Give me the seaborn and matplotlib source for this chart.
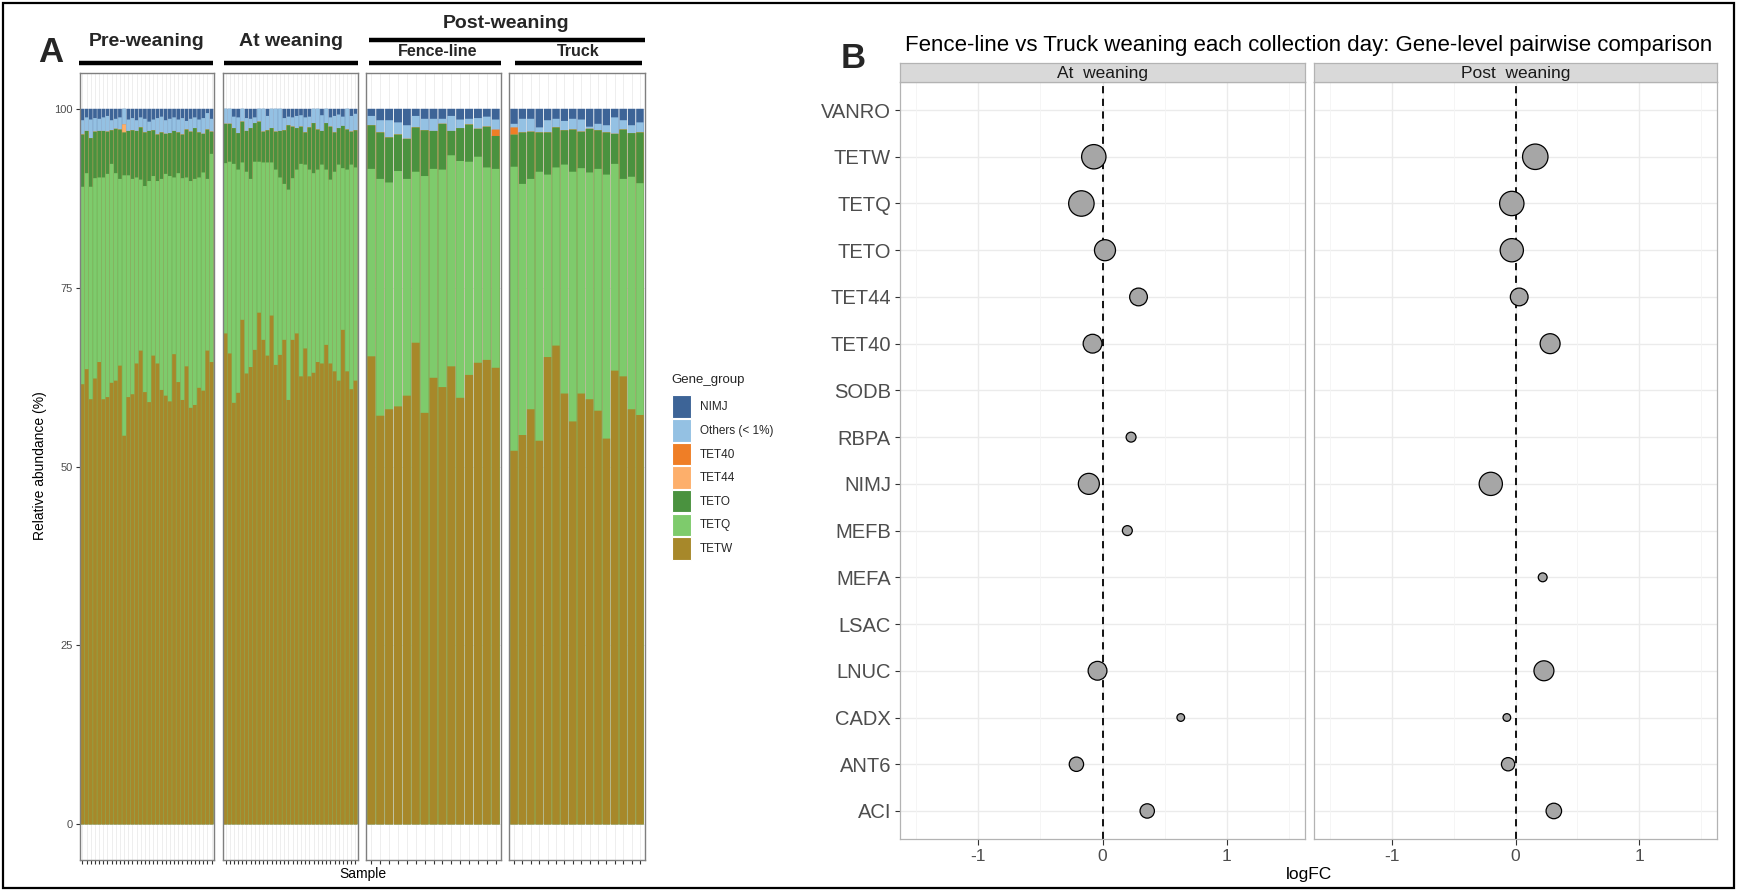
import numpy as np
import pandas as pd
import matplotlib
matplotlib.use("Agg")
import matplotlib.pyplot as plt
import seaborn as sns
from matplotlib.patches import Rectangle, Patch
from matplotlib.lines import Line2D

sns.set_theme(style="white")
plt.rcParams['font.family'] = ['Liberation Sans', 'DejaVu Sans']

# ---------------- Panel A data (relative abundance, %) ----------------
groups_legend = ["NIMJ", "Others (< 1%)", "TET40", "TET44", "TETO", "TETQ", "TETW"]
group_colors = ["#3D6497", "#94C1E3", "#EF7E26", "#FDAF6B", "#4A923F", "#7ECB6C", "#A7882A"]

pre_TETW = [61.5,63.6,59.4,62.3,64.6,59.4,59.7,61.7,62.0,64.1,54.3,59.7,60.1,64.4,66.2,60.4,
            59.0,65.5,64.4,60.7,59.9,59.1,65.7,61.8,59.3,64.0,58.2,58.6,61.0,60.6,66.2,64.6]
pre_TETQ = [27.6,27.4,29.7,28.0,25.8,31.0,31.2,30.6,29.0,26.1,36.4,31.0,30.1,26.0,23.9,28.8,
            30.9,25.1,25.5,29.5,31.0,31.5,24.7,29.2,31.0,26.4,31.7,31.6,29.4,30.5,24.0,29.1]
pre_TETO = [7.3,5.9,6.8,6.5,6.5,6.5,5.9,4.7,6.2,6.9,6.0,6.2,6.8,6.5,7.3,7.5,
            7.0,6.4,6.5,6.5,5.6,6.0,6.5,5.7,6.1,6.7,6.9,7.1,6.3,5.4,6.9,3.1]
pre_TET44 = [0,0,0,0,0,0,0,0,0,0,1.1,0,0,0,0,0,0,0,0,0,0,0,0,0,0,0,0,0,0,0,0,0]
pre_TET40 = [0]*32
pre_Others = [2.0,1.9,2.6,1.9,1.7,1.9,2.2,1.4,1.4,1.7,2.2,1.6,1.7,1.5,1.4,1.9,
              1.3,1.5,2.3,2.2,1.9,2.0,1.9,1.8,2.3,1.2,1.8,1.5,1.8,2.2,2.3,1.8]
pre_NIMJ = [1.6,1.2,1.5,1.3,1.4,1.2,1.0,1.6,1.4,1.2,0.0,1.5,1.3,1.6,1.2,1.4,
            1.8,1.5,1.3,1.1,1.6,1.4,1.2,1.5,1.3,1.7,1.4,1.2,1.5,1.3,0.6,1.4]

at_TETW = [68.6,65.8,58.9,60.3,70.5,63.0,63.9,66.3,71.5,67.7,65.5,71.1,64.2,65.6,67.7,59.3,
           67.7,68.6,62.6,66.5,62.6,63.1,64.6,64.4,67.0,64.4,63.3,62.0,69.1,63.3,60.8,62.0]
at_TETQ = [23.8,26.8,33.4,31.2,22.0,28.2,26.3,26.3,21.1,24.8,27.0,21.4,27.3,24.8,21.8,29.4,
           22.6,22.9,29.7,25.7,28.9,27.9,26.9,27.8,24.5,25.7,27.9,30.2,22.6,28.2,31.4,29.8]
at_TETO = [5.5,5.3,5.0,5.1,5.7,5.7,7.1,5.4,5.6,4.3,4.5,4.8,5.3,6.5,7.5,9.0,
           7.2,5.8,5.2,4.5,5.9,7.0,5.6,4.7,6.5,7.4,5.5,5.1,5.9,5.6,4.6,5.2]
at_TET44 = [0]*32
at_TET40 = [0]*32
at_Others = [2.1,2.1,1.6,2.2,1.8,1.8,1.3,0.8,1.8,3.2,2.0,2.7,3.2,3.1,1.7,1.2,
             1.3,1.7,1.6,2.1,1.5,2.0,2.9,2.2,2.0,1.3,2.3,1.9,1.3,2.9,2.2,2.3]
at_NIMJ = [0,0,1.1,1.2,0,1.3,1.4,1.2,0,0,1.0,0,0,0,1.3,1.1,
           1.2,1.0,0.9,1.2,1.1,0,0,0.9,0,1.2,1.0,0.8,1.1,0,1.0,0.7]

fence_TETW = [65.4,57.1,58.0,58.4,59.9,67.3,57.5,62.4,61.1,64.0,59.6,62.8,64.5,64.9,63.8]
fence_TETQ = [26.2,33.1,31.7,32.9,30.3,23.9,33.1,29.2,30.4,29.5,33.1,29.8,28.8,26.9,27.8]
fence_TETO = [6.1,6.5,6.3,5.1,5.6,6.2,6.4,5.3,6.4,3.4,4.6,5.2,3.9,5.7,4.6]
fence_TET44 = [0]*15
fence_TET40 = [0,0,0,0,0,0,0,0,0,0,0,0,0,0,0.9]
fence_Others = [1.3,1.7,2.4,1.7,1.9,1.6,1.6,1.7,0.7,2.1,1.2,0.8,1.5,1.4,1.4]
fence_NIMJ = [1.0,1.6,1.6,1.9,2.3,1.0,1.4,1.4,1.4,1.0,1.5,1.4,1.3,1.1,1.5]

truck_TETW = [52.2,54.4,58.0,53.6,65.3,66.9,60.2,56.3,60.2,59.4,57.8,53.9,63.4,62.6,58.0,57.2]
truck_TETQ = [39.7,35.1,32.2,37.6,25.5,24.9,32.0,34.9,31.5,31.7,33.8,36.9,28.9,27.6,32.5,32.4]
truck_TETO = [4.5,7.2,6.6,5.5,5.9,5.6,4.8,5.9,5.1,6.1,5.4,5.9,4.2,6.9,6.1,7.1]
truck_TET44 = [0]*16
truck_TET40 = [1.0,0,0,0,0,0,0,0,0,0,0,0,0,0,0,0]
truck_Others = [0.5,1.9,1.8,0.7,1.7,1.2,1.3,1.5,1.7,0.3,0.9,1.0,2.3,1.3,1.1,1.4]
truck_NIMJ = [2.1,1.4,1.4,2.6,1.6,1.4,1.7,1.4,1.5,2.5,2.1,2.3,1.2,1.6,2.3,1.9]

panel_names = ["Pre-weaning", "At weaning", "Fence-line", "Truck"]
panel_tables = {
    "Pre-weaning": [pre_NIMJ, pre_Others, pre_TET40, pre_TET44, pre_TETO, pre_TETQ, pre_TETW],
    "At weaning": [at_NIMJ, at_Others, at_TET40, at_TET44, at_TETO, at_TETQ, at_TETW],
    "Fence-line": [fence_NIMJ, fence_Others, fence_TET40, fence_TET44, fence_TETO, fence_TETQ, fence_TETW],
    "Truck": [truck_NIMJ, truck_Others, truck_TET40, truck_TET44, truck_TETO, truck_TETQ, truck_TETW],
}

# ---------------- Panel B data ----------------
genes = ["VANRO", "TETW", "TETQ", "TETO", "TET44", "TET40", "SODB", "RBPA",
         "NIMJ", "MEFB", "MEFA", "LSAC", "LNUC", "CADX", "ANT6", "ACI"]
atw_genes = ["TETW", "TETQ", "TETO", "TET44", "TET40", "RBPA", "NIMJ", "MEFB", "LNUC", "CADX", "ANT6", "ACI"]
atw_logfc = [-0.07, -0.17, 0.02, 0.29, -0.08, 0.23, -0.11, 0.20, -0.04, 0.63, -0.21, 0.36]
atw_abund = [121, 132, 90, 64, 72, 20, 90, 20, 72, 12, 42, 42]
post_genes = ["TETW", "TETQ", "TETO", "TET44", "TET40", "NIMJ", "MEFA", "LNUC", "CADX", "ANT6", "ACI"]
post_logfc = [0.16, -0.03, -0.03, 0.03, 0.28, -0.20, 0.22, 0.23, -0.07, -0.06, 0.31]
post_abund = [132, 121, 110, 64, 81, 110, 16, 81, 12, 36, 49]
facet_labels = ["At  weaning", "Post  weaning"]
x_ticks_b = [-1, 0, 1]

# ---------------- Figure ----------------
W, H = 1737, 890
fig = plt.figure(figsize=(W / 100, H / 100), dpi=100)
fig.patch.set_facecolor("white")

def add_ax(l, t, r, b):
    return fig.add_axes([l / W, 1 - b / H, (r - l) / W, (b - t) / H])

def fx(x):
    return x / W

def fy(y):
    return 1 - y / H

grey_text = "#4D4D4D"

# ----- Panel A -----
a_bounds = [(80, 214), (223, 358), (366, 501), (509, 645)]
for pi, (name, (l, r)) in enumerate(zip(panel_names, a_bounds)):
    ax = add_ax(l, 73, r, 860)
    ax.set_facecolor("white")
    vals = panel_tables[name]
    df = pd.DataFrame({g: v for g, v in zip(groups_legend, vals)})
    n = len(df)
    df["Sample"] = [f"{name}_{i:02d}" for i in range(n)]
    stack = groups_legend[::-1]  # bottom to top
    cum = df[stack].cumsum(axis=1)
    cum["Sample"] = df["Sample"]
    for i in range(n):
        ax.axvline(i, color="#EBEBEB", lw=0.6, zorder=0)
    for yv in [0, 25, 50, 75, 100]:
        ax.axhline(yv, color="#EBEBEB", lw=0.6, zorder=0)
    for g, c in zip(groups_legend, group_colors):
        sns.barplot(data=cum, x="Sample", y=g, color=c, saturation=1, width=0.9,
                    errorbar=None, ax=ax, linewidth=0, zorder=2, snap=False)
    ax.set_xlim(-0.6, n - 0.4)
    ax.set_ylim(-5, 105)
    ax.set_xlabel("")
    ax.set_ylabel("")
    ax.set_xticks(range(n))
    ax.set_xticklabels([])
    ax.tick_params(axis="x", length=3, width=0.8, color="#333333", bottom=True)
    if pi == 0:
        ax.set_yticks([0, 25, 50, 75, 100])
        ax.set_yticklabels(["0", "25", "50", "75", "100"], fontsize=8, color=grey_text)
        ax.tick_params(axis="y", length=3, width=0.8, color="#333333", left=True, pad=2)
    else:
        ax.set_yticks([])
    for s in ax.spines.values():
        s.set_color("#7F7F7F")
        s.set_linewidth(1.0)
    ax.grid(False)

fig.text(fx(40), fy(466), "Relative abundance (%)", rotation=90, ha="center", va="center",
         fontsize=10, color="black")
fig.text(fx(363), fy(874), "Sample", ha="center", va="center", fontsize=10, color="black")

# headers
def hline(x0, x1, y, lw=3.2):
    fig.add_artist(Line2D([fx(x0), fx(x1)], [fy(y), fy(y)], transform=fig.transFigure,
                          color="black", lw=lw, solid_capstyle="butt"))

fig.text(fx(147), fy(42), "Pre-weaning", ha="center", va="center", fontsize=14, fontweight="bold")
hline(79, 213, 63)
fig.text(fx(291), fy(42), "At weaning", ha="center", va="center", fontsize=14, fontweight="bold")
hline(224, 358, 63)
fig.text(fx(506), fy(24), "Post-weaning", ha="center", va="center", fontsize=14, fontweight="bold")
hline(369, 645, 39.5)
fig.text(fx(438), fy(51), "Fence-line", ha="center", va="center", fontsize=11.5, fontweight="bold")
hline(369, 501, 63)
fig.text(fx(578), fy(51), "Truck", ha="center", va="center", fontsize=11.5, fontweight="bold")
hline(515, 642, 63)

fig.text(fx(51), fy(53), "A", ha="center", va="center", fontsize=25, fontweight="bold")
fig.text(fx(853), fy(58), "B", ha="center", va="center", fontsize=25, fontweight="bold")

# legend
handles = [Patch(facecolor=c, edgecolor="white", linewidth=0.8) for c in group_colors]
leg = fig.legend(handles, groups_legend, title="Gene_group", loc="upper left",
                 bbox_to_anchor=(fx(667), fy(369)), frameon=False, fontsize=8.5,
                 title_fontsize=9.5, handlelength=1.6, handleheight=2.55,
                 labelspacing=0.1, handletextpad=0.8, borderaxespad=0)
leg._legend_box.align = "left"
leg._legend_box.sep = 7

# ----- Panel B -----
b_bounds = [(900, 1305), (1314, 1717)]
facet_data = [(atw_genes, atw_logfc, atw_abund), (post_genes, post_logfc, post_abund)]
all_abund = atw_abund + post_abund
amin, amax = min(all_abund), max(all_abund)
for fi, ((l, r), (fg, fl, fa), lab) in enumerate(zip(b_bounds, facet_data, facet_labels)):
    ax = add_ax(l, 82, r, 839)
    ax.set_facecolor("white")
    dfb = pd.DataFrame({"gene": fg, "logFC": fl, "abund": fa})
    dfb["ypos"] = [genes.index(g) for g in dfb["gene"]]
    for yi in range(len(genes)):
        ax.axhline(yi, color="#EBEBEB", lw=1.0, zorder=0)
    for xv in x_ticks_b:
        ax.axvline(xv, color="#EBEBEB", lw=1.0, zorder=0)
    for xv in [-1.5, -0.5, 0.5, 1.5]:
        ax.axvline(xv, color="#F4F4F4", lw=0.6, zorder=0)
    ax.axvline(0, color="black", lw=1.3, ls=(0, (4, 3)), zorder=1)
    sns.scatterplot(data=dfb, x="logFC", y="ypos", size="abund",
                    sizes=(2.545 * amin, 2.545 * amax), size_norm=(amin, amax),
                    color="#A6A6A6", edgecolor="black", linewidth=0.9, legend=False,
                    ax=ax, zorder=3)
    ax.set_xlim(-1.63, 1.63)
    ax.set_ylim(len(genes) - 0.4, -0.6)
    ax.set_xlabel("")
    ax.set_ylabel("")
    ax.set_xticks(x_ticks_b)
    ax.set_xticklabels([str(v) for v in x_ticks_b], fontsize=12.5, color=grey_text)
    ax.tick_params(axis="x", length=4, width=0.8, color="#333333", bottom=True, pad=3)
    ax.set_yticks(range(len(genes)))
    if fi == 0:
        ax.set_yticklabels(genes, fontsize=14.5, color=grey_text)
        ax.tick_params(axis="y", length=3.5, width=0.8, color="#333333", left=True, pad=3)
    else:
        ax.set_yticklabels([])
        ax.tick_params(axis="y", length=0)
    for s in ax.spines.values():
        s.set_color("#B3B3B3")
        s.set_linewidth(0.9)
    ax.grid(False)
    # strip
    sax = add_ax(l, 63, r, 82)
    sax.set_facecolor("#D9D9D9")
    sax.set_xticks([])
    sax.set_yticks([])
    for s in sax.spines.values():
        s.set_color("#B3B3B3")
        s.set_linewidth(0.9)
    sax.text(0.5, 0.45, lab, ha="center", va="center", fontsize=12.5, color="#1A1A1A",
             transform=sax.transAxes)

fig.text(fx(1309), fy(45), "Fence-line vs Truck weaning each collection day: Gene-level pairwise comparison",
         ha="center", va="center", fontsize=16, color="black")
fig.text(fx(1309), fy(874), "logFC", ha="center", va="center", fontsize=12.5, color="black")

# outer frame
fig.add_artist(Rectangle((0.002, 0.002), 0.996, 0.995, transform=fig.transFigure,
                         fill=False, edgecolor="black", lw=1.6))

fig.savefig("out.png", dpi=100, facecolor="white")
